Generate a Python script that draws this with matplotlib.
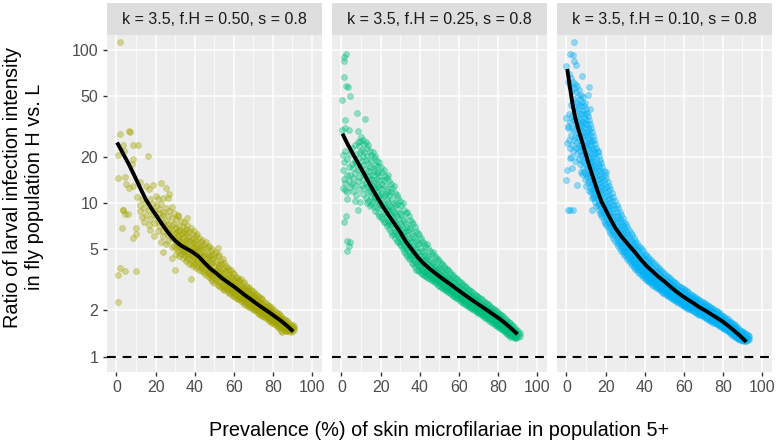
import matplotlib

matplotlib.use('Agg')
from matplotlib import pyplot as plt
from matplotlib.ticker import NullLocator

plt.rcParams['font.family'] = ['Liberation Sans', 'DejaVu Sans']

titles = ['k = 3.5, f.H = 0.50, s = 0.8', 'k = 3.5, f.H = 0.25, s = 0.8', 'k = 3.5, f.H = 0.10, s = 0.8']
colors = ['#A3A500', '#00BF7D', '#00B0F6']
x_ticks = [0, 20, 40, 60, 80, 100]
x_minor = [10, 30, 50, 70, 90]
y_ticks = [1, 2, 5, 10, 20, 50, 100]

# smooth lines
line_a_x = [0.3, 3, 6, 9, 12, 15, 18, 21, 24, 27, 30, 33, 36, 39, 42, 45, 48, 51, 54, 57, 60, 63, 66, 69, 72, 75, 78, 81, 84, 87, 90.4]
line_a_y = [24.9, 21.5, 18.3, 15.3, 12.7, 10.6, 9.2, 8.1, 7.1, 6.3, 5.7, 5.3, 5.05, 4.8, 4.5, 4.1, 3.75, 3.5, 3.25, 3.05, 2.87, 2.68, 2.5, 2.35, 2.2, 2.07, 1.95, 1.83, 1.72, 1.6, 1.46]
line_b_x = [0.5, 3, 6, 9, 12, 15, 18, 21, 24, 27, 30, 33, 36, 39, 42, 45, 48, 51, 54, 57, 60, 63, 66, 69, 72, 75, 78, 81, 84, 87, 90]
line_b_y = [28.4, 24.5, 20.8, 17.8, 15.2, 12.9, 11.1, 9.6, 8.4, 7.4, 6.5, 5.6, 5.0, 4.45, 4.05, 3.75, 3.5, 3.27, 3.07, 2.88, 2.7, 2.53, 2.38, 2.24, 2.11, 1.99, 1.87, 1.76, 1.64, 1.52, 1.4]
line_c_x = [0.4, 1.5, 3, 4.5, 6, 7.5, 9, 10.5, 12, 14, 16, 18, 20, 22, 25, 28, 32, 35, 38, 41, 44, 47, 50, 53, 56, 59, 62, 65, 68, 71, 74, 77, 80, 83, 86, 89, 92]
line_c_y = [75, 60, 45, 36, 30.5, 26.5, 22.8, 19.6, 17, 14.2, 11.9, 10.2, 9.1, 8.1, 6.9, 6.1, 5.3, 4.8, 4.3, 3.9, 3.6, 3.32, 3.1, 2.87, 2.67, 2.5, 2.36, 2.23, 2.1, 2.0, 1.89, 1.79, 1.69, 1.58, 1.47, 1.36, 1.25]

# scatter: each row is x followed by the y values read at that x
points_a = [
    [2, 112], [6.3, 29.6], [1.7, 28.3], [7, 29], [8.5, 24], [10.8, 24], [3.4, 24], [1, 20.5], [3.8, 22],
    [15.9, 20.3], [8.3, 19.5], [8, 18], [1, 14.6], [4.5, 14.9], [5, 13.4], [6.2, 12.5], [8.7, 12.9], [10.5, 11],
    [3.3, 9], [4.4, 8.5], [6, 8.5], [3.4, 9.05], [2.6, 6.9], [10, 6.9], [9.8, 6.3], [8.5, 5.9], [1.7, 3.8], [0.6, 3.4],
    [4.2, 3.6], [10, 3.6], [1, 2.27], [30, 3.7], [38, 3.2], [52, 5.1], [31.5, 8.4], [36, 8], [28.5, 4.4],
    [12.2, 13.8, 9.8, 8.9], [13.1, 10.7, 8.1], [14.3, 9.3, 7.6], [14.9, 13, 10.2, 8.4], [16.7, 12.4, 9.1, 7.2], [17.4, 10.6, 7.9, 6.7],
    [18.5, 13.2, 9.9, 8.5], [19.2, 8.9, 7.4, 6.1], [20.3, 11.2, 9.6, 8.3], [21, 10.7, 7.7, 6.6], [21.8, 9.2, 8.6, 7.1], [23, 13.5, 9.9, 8.0, 5.6],
    [23.7, 8.8, 7.4, 6.6], [24, 10.8, 8.4, 6.1, 4.8], [25.3, 12.6, 9.3, 7.7, 7.0, 5.4], [26.5, 10.8, 8.3, 7.3, 6.2, 5.7], [27, 11.5, 8.9, 6.8, 6.5],
    [28.5, 9.5, 8.0, 7.2, 6.7, 5.9, 5.2], [29.2, 8.7, 7.3, 6.3, 6.0, 5.3], [30.4, 7.9, 6.9, 6.5, 5.6, 5.1, 4.7], [31.3, 8.2, 6.6, 6.1, 5.8, 5.4, 4.9],
    [32.1, 7.1, 6.7, 5.9, 5.5, 5.2, 4.5], [32.9, 7.7, 6.3, 5.7, 5.4, 5.0, 4.7], [33.8, 7.0, 6.4, 6.0, 5.2, 4.9, 4.4], [34.6, 7.5, 6.6, 5.6, 5.3, 4.8, 4.6],
    [35.4, 6.8, 6.1, 5.8, 5.1, 4.9, 4.2], [36.3, 7.2, 6.4, 5.5, 5.2, 4.7, 4.3], [37.2, 6.6, 6.0, 5.7, 5.0, 4.6, 4.4, 4.0], [38.1, 6.9, 5.8, 5.3, 4.9, 4.7, 4.1],
    [38.9, 6.3, 5.9, 5.5, 5.1, 4.5, 4.2, 3.9], [39.7, 6.6, 5.6, 5.2, 4.8, 4.4, 4.0], [40.5, 6.1, 5.7, 5.0, 4.7, 4.3, 3.8], [41.4, 6.3, 5.4, 4.9, 4.5, 4.2, 3.9],
    [42.2, 5.9, 5.2, 5.0, 4.6, 4.1, 3.7], [43.1, 5.6, 5.3, 4.7, 4.3, 4.0, 3.8], [44, 5.8, 5.0, 4.5, 4.2, 3.9, 3.6], [44.8, 5.4, 4.8, 4.6, 4.0, 3.7, 3.5],
    [45.7, 5.6, 5.1, 4.3, 4.1, 3.8, 3.4], [46.6, 5.2, 4.7, 4.4, 3.9, 3.6, 3.5], [47.4, 5.3, 4.5, 4.2, 3.8, 3.5, 3.3], [48.3, 4.9, 4.6, 4.0, 3.7, 3.4, 3.2],
    [49.1, 5.0, 4.3, 4.1, 3.6, 3.3, 3.1], [50, 4.7, 4.4, 3.9, 3.5, 3.4, 3.0], [50.8, 4.8, 4.2, 3.7, 3.6, 3.2, 3.1], [51.7, 4.5, 4.0, 3.8, 3.4, 3.3, 2.95],
    [52.5, 4.6, 3.9, 3.6, 3.5, 3.1, 2.9], [53.4, 4.2, 4.0, 3.4, 3.3, 3.0, 2.85], [54.3, 4.3, 3.7, 3.5, 3.2, 2.95, 2.75], [55.1, 4.1, 3.8, 3.3, 3.1, 2.85, 2.7],
    [56, 3.9, 3.6, 3.2, 3.05, 2.9, 2.75], [56.9, 3.8, 3.4, 3.25, 3.0, 2.8, 2.65], [57.7, 3.65, 3.45, 3.1, 2.95, 2.7, 2.6], [58.5, 3.7, 3.3, 3.05, 2.85, 2.75, 2.55],
    [59.4, 3.5, 3.2, 2.95, 2.8, 2.65, 2.5], [60.2, 3.45, 3.15, 2.9, 2.7, 2.6, 2.48], [61.1, 3.3, 3.05, 2.92, 2.75, 2.55, 2.42], [62, 3.25, 3.1, 2.8, 2.62, 2.5, 2.38],
    [62.8, 3.15, 2.95, 2.78, 2.66, 2.45, 2.36], [63.6, 3.2, 2.88, 2.7, 2.55, 2.42, 2.3], [64.5, 3.0, 2.8, 2.63, 2.48, 2.38, 2.26], [65.3, 3.05, 2.76, 2.55, 2.44, 2.32, 2.22],
    [66.2, 2.9, 2.72, 2.6, 2.4, 2.28, 2.18], [67.1, 2.84, 2.66, 2.5, 2.36, 2.25, 2.14], [67.9, 2.8, 2.58, 2.44, 2.33, 2.2, 2.12], [68.7, 2.72, 2.56, 2.42, 2.27, 2.17, 2.08],
    [69.6, 2.68, 2.48, 2.36, 2.24, 2.14, 2.05], [70.4, 2.6, 2.45, 2.3, 2.2, 2.1, 2.02], [71.3, 2.55, 2.38, 2.28, 2.15, 2.06, 1.98], [72.2, 2.5, 2.35, 2.2, 2.12, 2.02, 1.94],
    [73, 2.44, 2.28, 2.18, 2.07, 1.99, 1.9], [73.9, 2.4, 2.24, 2.12, 2.04, 1.95, 1.87], [74.7, 2.36, 2.2, 2.08, 2.0, 1.92, 1.84], [75.6, 2.28, 2.14, 2.05, 1.96, 1.88, 1.82],
    [76.4, 2.25, 2.1, 2.0, 1.93, 1.85, 1.78], [77.3, 2.18, 2.06, 1.97, 1.88, 1.82, 1.75], [78.1, 2.14, 2.02, 1.93, 1.86, 1.78, 1.72], [79, 2.1, 1.98, 1.89, 1.81, 1.75, 1.7],
    [79.8, 2.06, 1.94, 1.86, 1.78, 1.72, 1.66], [80.7, 2.02, 1.9, 1.81, 1.75, 1.69, 1.63], [81.6, 1.96, 1.87, 1.78, 1.72, 1.65, 1.6], [82.4, 1.92, 1.82, 1.75, 1.68, 1.62, 1.57],
    [83.2, 1.9, 1.79, 1.71, 1.65, 1.59, 1.54], [84.1, 1.84, 1.75, 1.68, 1.62, 1.56, 1.46], [84.9, 1.8, 1.72, 1.65, 1.58, 1.53, 1.45], [85.8, 1.77, 1.69, 1.62, 1.56, 1.5],
    [86.6, 1.73, 1.65, 1.58, 1.53, 1.48], [87.5, 1.7, 1.62, 1.55, 1.5, 1.46], [88.3, 1.66, 1.59, 1.52, 1.47], [89.2, 1.62, 1.56, 1.5, 1.45], [90.1, 1.6, 1.53, 1.47], [91, 1.57, 1.51],
]
points_b = [
    [2.2, 94], [1.2, 90], [1.4, 84], [1.4, 67], [2.4, 58], [3.4, 57], [4.6, 50], [0.2, 47], [7.9, 39], [11.8, 35.5],
    [1.7, 35], [0.5, 30], [1.7, 30.8], [4, 30], [8.2, 29.4], [10, 27], [2.6, 10.7], [6.8, 10.4], [8.5, 9], [2.2, 8.3],
    [1.5, 7.5], [2.8, 5.7], [3.6, 5.3], [4.6, 5.6], [2.9, 4.9],
    [0.6, 20.5, 16.5, 12.6], [1.4, 18.6, 14.4], [2, 22, 13.6, 12.2], [2.9, 19.5, 15.4, 11.9], [3.6, 17.2, 13.9], [4.4, 20.8, 15.2, 12.8], [5.2, 23, 18, 13.3],
    [6, 17, 14.6, 12], [6.9, 23.8, 19, 15.8, 13.2], [7.6, 21, 18.2, 11.3], [8.3, 25, 16.4, 13.9], [9, 23.5, 19.8, 14.8, 12.4], [9.7, 25.6, 21.5, 17.2, 10.2],
    [10.4, 22.4, 19, 16, 13.2], [11, 26, 20.3, 17.8, 14.4, 11.5], [11.7, 24.4, 21.6, 15.4, 12.5], [12.4, 25, 19.2, 16.8, 13.6, 10.9], [13.1, 22.8, 20.4, 15, 12.9, 10],
    [13.8, 24, 18.4, 16.2, 14.2, 11.8, 10.4], [14.5, 21.8, 17.2, 15.4, 13.3, 12, 9.6], [15.2, 20.6, 18.9, 14.5, 12.6, 11, 9.9], [15.9, 21.5, 17, 15.3, 13, 11.6, 10.3], [16.6, 19.6, 16.2, 14.1, 12.2, 10.8, 9.4],
    [17.3, 20.4, 17.8, 13.6, 12.5, 11.2, 8.9], [18, 19, 15.7, 14.3, 11.8, 10.4, 9.5], [18.7, 17.6, 16, 13.1, 11.3, 10.6, 8.7], [19.4, 18.7, 15.1, 12.7, 11.1, 9.9, 8.3],
    [20.1, 17.2, 14.2, 12.4, 10.7, 9.3, 8.1], [20.9, 15.9, 13.4, 11.7, 10.1, 9.6, 7.9], [21.6, 16.6, 14.1, 11.2, 9.9, 8.8, 7.5], [22.4, 15, 12.9, 11.5, 9.5, 8.5, 7.6],
    [23.1, 14.6, 12.3, 10.6, 9.2, 8.2, 7.1], [23.8, 15.2, 11.9, 10.2, 8.9, 7.8, 7.3], [24.5, 13.9, 11.4, 9.8, 9, 7.6, 6.8], [25.3, 13.3, 11.8, 9.4, 8.4, 7.2, 6.5],
    [26, 12.5, 10.7, 9.1, 8.1, 7.4, 6.2], [26.8, 12.9, 10.1, 8.8, 7.7, 6.9, 6.3], [27.5, 11.7, 9.7, 8.5, 7.5, 6.6, 5.9], [28.3, 11.3, 9.9, 8.2, 7.1, 6.3, 5.7],
    [29, 10.9, 9.2, 7.9, 6.9, 6.1, 5.6], [29.8, 10.4, 8.7, 7.4, 6.7, 5.9, 5.4], [30.6, 9.8, 8.4, 7.2, 6.3, 5.7, 5.3], [31.3, 10.1, 7.9, 6.8, 6.0, 5.5, 5.0],
    [32.1, 9.1, 7.7, 6.5, 6.1, 5.3, 4.8], [32.9, 8.6, 7.3, 6.6, 5.7, 5.1, 4.7], [33.7, 8.8, 7.0, 6.2, 5.6, 5.0, 4.5], [34.4, 8.2, 6.7, 5.9, 5.3, 4.8, 4.3],
    [35.2, 7.8, 6.9, 5.7, 5.2, 4.6, 4.4], [36, 7.5, 6.4, 5.6, 4.9, 4.5, 4.1], [36.8, 7.3, 6.1, 5.3, 4.8, 4.3, 4.0], [37.5, 7.0, 5.9, 5.1, 4.6, 4.2, 3.85],
    [38.3, 6.6, 5.7, 5.0, 4.5, 4.1, 3.7], [39.1, 6.4, 5.4, 4.8, 4.3, 3.95, 3.65], [39.8, 6.2, 5.5, 4.6, 4.2, 3.9, 3.6], [40.6, 5.9, 5.1, 4.5, 4.0, 3.8, 3.5],
    [41.4, 5.7, 4.9, 4.35, 4.1, 3.7, 3.45], [42.2, 5.5, 4.8, 4.2, 3.9, 3.6, 3.4], [42.9, 5.3, 4.6, 4.25, 3.8, 3.55, 3.35], [43.7, 5.4, 4.4, 4.05, 3.7, 3.5, 3.3],
    [44.5, 5.1, 4.5, 3.95, 3.65, 3.45, 3.25], [45.3, 4.9, 4.25, 3.9, 3.6, 3.4, 3.2], [46.1, 4.7, 4.15, 3.8, 3.55, 3.3, 3.15], [46.8, 4.8, 4.05, 3.7, 3.45, 3.28, 3.1],
    [47.6, 4.5, 3.95, 3.65, 3.4, 3.2, 3.05], [48.4, 4.4, 3.85, 3.55, 3.35, 3.15, 3.0], [49.2, 4.3, 3.75, 3.5, 3.25, 3.1, 2.95], [49.9, 4.2, 3.8, 3.4, 3.2, 3.05, 2.9],
    [50.7, 4.1, 3.65, 3.35, 3.15, 3.0, 2.85], [51.5, 4.0, 3.55, 3.3, 3.1, 2.95, 2.8], [52.3, 3.9, 3.45, 3.2, 3.02, 2.9, 2.75], [53, 3.8, 3.4, 3.15, 3.0, 2.85, 2.72],
    [53.8, 3.72, 3.3, 3.1, 2.95, 2.78, 2.68], [54.6, 3.65, 3.25, 3.05, 2.88, 2.75, 2.64], [55.4, 3.55, 3.2, 2.98, 2.84, 2.7, 2.6], [56.1, 3.48, 3.12, 2.95, 2.78, 2.66, 2.55],
    [56.9, 3.4, 3.06, 2.88, 2.74, 2.62, 2.5], [57.7, 3.33, 3.02, 2.82, 2.7, 2.56, 2.47], [58.5, 3.27, 2.95, 2.78, 2.64, 2.52, 2.43], [59.2, 3.2, 2.9, 2.73, 2.6, 2.48, 2.4],
    [60, 3.12, 2.86, 2.68, 2.55, 2.45, 2.36], [60.8, 3.06, 2.82, 2.63, 2.5, 2.4, 2.32], [61.6, 3.0, 2.75, 2.58, 2.46, 2.36, 2.28], [62.4, 2.95, 2.7, 2.54, 2.42, 2.33, 2.25],
    [63.1, 2.88, 2.65, 2.5, 2.38, 2.29, 2.2], [63.9, 2.84, 2.6, 2.45, 2.34, 2.26, 2.17], [64.7, 2.78, 2.56, 2.42, 2.3, 2.22, 2.14], [65.5, 2.72, 2.5, 2.38, 2.27, 2.18, 2.11],
    [66.2, 2.68, 2.47, 2.34, 2.23, 2.15, 2.08], [67, 2.62, 2.42, 2.3, 2.19, 2.12, 2.05], [67.8, 2.58, 2.38, 2.26, 2.16, 2.08, 2.02], [68.6, 2.52, 2.34, 2.22, 2.13, 2.05, 1.98],
    [69.3, 2.48, 2.3, 2.19, 2.09, 2.02, 1.95], [70.1, 2.44, 2.26, 2.15, 2.06, 1.99, 1.92], [70.9, 2.4, 2.22, 2.12, 2.03, 1.96, 1.89], [71.7, 2.36, 2.18, 2.08, 2.0, 1.93, 1.86],
    [72.4, 2.31, 2.15, 2.05, 1.97, 1.9, 1.83], [73.2, 2.27, 2.12, 2.02, 1.94, 1.87, 1.8], [74, 2.23, 2.08, 1.99, 1.91, 1.84, 1.78], [74.8, 2.2, 2.05, 1.96, 1.88, 1.81, 1.75],
    [75.5, 2.16, 2.02, 1.93, 1.85, 1.78, 1.72], [76.3, 2.12, 1.99, 1.9, 1.82, 1.76, 1.7], [77.1, 2.08, 1.95, 1.86, 1.79, 1.73, 1.67], [77.9, 2.05, 1.92, 1.83, 1.76, 1.7, 1.65],
    [78.6, 2.01, 1.89, 1.8, 1.73, 1.67, 1.62], [79.4, 1.98, 1.86, 1.77, 1.7, 1.64, 1.59], [80.2, 1.94, 1.82, 1.74, 1.67, 1.61, 1.56], [81, 1.9, 1.79, 1.71, 1.64, 1.58, 1.54],
    [81.7, 1.87, 1.76, 1.68, 1.61, 1.56, 1.51], [82.5, 1.83, 1.72, 1.65, 1.58, 1.53, 1.49], [83.3, 1.8, 1.69, 1.62, 1.55, 1.5, 1.46], [84.1, 1.76, 1.66, 1.58, 1.52, 1.47, 1.43],
    [84.8, 1.72, 1.63, 1.55, 1.49, 1.44, 1.4], [85.6, 1.68, 1.59, 1.52, 1.46, 1.42, 1.38], [86.4, 1.65, 1.56, 1.49, 1.43, 1.39, 1.35], [87.2, 1.61, 1.52, 1.46, 1.41, 1.36],
    [87.9, 1.58, 1.5, 1.43, 1.38, 1.34], [88.7, 1.54, 1.46, 1.4, 1.35, 1.32], [89.5, 1.5, 1.43, 1.37, 1.33], [90.3, 1.47, 1.4, 1.34], [91.1, 1.43, 1.37],
]
points_c = [
    [3.9, 113], [1.7, 94], [3.4, 92], [3.8, 85], [4.8, 80], [0, 78], [7.7, 68], [11.6, 57], [11, 51], [12, 41], [0, 36], [0.9, 32],
    [0.3, 24.7], [1.7, 19.7], [0.3, 16.5], [0, 14.2], [0.9, 9], [2, 9], [3.1, 9], [5.6, 13.2], [20, 15.9], [16.2, 22], [13, 9],
    [0.6, 62, 31], [1.1, 70, 38, 26], [1.7, 58, 34, 23], [2.2, 66, 44, 28, 20], [2.7, 54, 37, 31, 24, 17], [3.2, 62, 48, 35, 22], [3.7, 56, 42, 30, 26],
    [4.2, 60, 46, 36, 27, 19], [4.7, 53, 40, 33, 23], [5.2, 58, 45, 37, 29, 25, 21], [5.8, 50, 41, 34, 27, 23], [6.3, 55, 44, 36, 31, 24, 19.5],
    [6.8, 48, 39, 33, 28, 22, 18], [7.3, 51, 43, 35, 30, 25, 20.5, 16], [7.9, 46, 38, 32, 27, 23, 19, 15.5], [8.4, 49, 40, 34, 29, 24, 21, 17],
    [8.9, 43, 36, 31, 26, 22, 18.5, 16], [9.4, 45, 38, 33, 28, 23.5, 20, 14.5], [9.9, 41, 35, 29, 25, 21, 18, 15.5, 13], [10.4, 39, 33, 28, 24, 20.5, 17, 14.8],
    [10.9, 37, 31, 26.5, 22.5, 19.5, 16.5, 13.6], [11.5, 35, 30, 25, 21.5, 18.5, 15.6, 14, 12], [12, 33, 28, 24, 20, 17.5, 15, 12.8], [12.6, 31, 26, 22.5, 19, 16.8, 14.2, 11.8],
    [13.1, 29, 25, 21, 18.2, 15.8, 13.6, 12.2, 10.8], [13.7, 27.5, 23, 20, 17.2, 15, 12.9, 11.2], [14.2, 26, 22, 18.8, 16.4, 14.2, 12.4, 10.9], [14.8, 24.5, 21, 17.8, 15.6, 13.4, 11.6, 10.2],
    [15.3, 23, 19.6, 17, 14.8, 12.8, 11.2, 9.6], [15.9, 21.5, 18.4, 16.2, 14.1, 12.2, 10.6, 9.8], [16.5, 20.4, 17.6, 15.2, 13.3, 11.7, 10.1, 9.1], [17.1, 19.2, 16.6, 14.5, 12.7, 11, 9.7, 8.7],
    [17.7, 18.2, 15.7, 13.8, 12, 10.5, 9.3, 8.4], [18.4, 17.2, 14.9, 13, 11.5, 10.1, 8.9, 8.1], [19, 16.3, 14.2, 12.4, 10.9, 9.6, 8.6, 7.7], [19.7, 15.4, 13.4, 11.8, 10.4, 9.2, 8.3, 7.4],
    [20.4, 14.6, 12.7, 11.1, 9.9, 8.8, 7.9, 7.2], [21.1, 13.8, 12, 10.6, 9.4, 8.4, 7.6, 7], [21.8, 13, 11.4, 10.1, 9, 8.1, 7.3, 6.7], [22.5, 12.3, 10.9, 9.6, 8.6, 7.7, 7, 6.4],
    [23.2, 11.6, 10.3, 9.2, 8.2, 7.4, 6.7, 6.2], [24, 11, 9.8, 8.7, 7.8, 7.1, 6.5, 5.9], [24.8, 10.4, 9.3, 8.3, 7.5, 6.8, 6.2, 5.7], [25.6, 9.8, 8.8, 7.9, 7.1, 6.5, 6, 5.5],
    [26.4, 9.3, 8.3, 7.5, 6.8, 6.2, 5.7, 5.3], [27.2, 8.8, 7.9, 7.1, 6.5, 6, 5.5, 5.1], [28, 8.4, 7.5, 6.8, 6.2, 5.7, 5.3, 4.9], [28.8, 8, 7.2, 6.5, 6, 5.5, 5.1, 4.8],
    [29.6, 7.6, 6.9, 6.3, 5.7, 5.3, 4.9, 4.6], [30.4, 7.3, 6.6, 6, 5.5, 5.1, 4.8, 4.5], [31.2, 7, 6.3, 5.8, 5.3, 4.9, 4.6, 4.3], [32, 6.7, 6, 5.5, 5.1, 4.8, 4.4, 4.2],
    [32.8, 6.4, 5.8, 5.3, 5, 4.6, 4.3, 4.1], [33.6, 6.2, 5.6, 5.1, 4.8, 4.5, 4.2, 3.95], [34.4, 5.9, 5.4, 5, 4.6, 4.3, 4.05, 3.85], [35.2, 5.7, 5.2, 4.8, 4.5, 4.2, 3.95, 3.75],
    [36, 5.5, 5, 4.65, 4.35, 4.05, 3.85, 3.65], [36.8, 5.3, 4.85, 4.5, 4.2, 3.95, 3.75, 3.55], [37.6, 5.15, 4.7, 4.35, 4.1, 3.85, 3.65, 3.48], [38.4, 5, 4.55, 4.25, 3.95, 3.75, 3.55, 3.4],
    [39.2, 4.85, 4.45, 4.1, 3.85, 3.65, 3.48, 3.32], [40, 4.7, 4.3, 4, 3.75, 3.55, 3.4, 3.25], [40.8, 4.6, 4.2, 3.9, 3.65, 3.48, 3.32, 3.18], [41.6, 4.45, 4.05, 3.8, 3.58, 3.4, 3.25, 3.12],
    [42.4, 4.35, 3.95, 3.7, 3.5, 3.33, 3.18, 3.06], [43.2, 4.25, 3.88, 3.62, 3.42, 3.26, 3.12, 3], [44, 4.15, 3.78, 3.54, 3.34, 3.18, 3.06, 2.95], [44.8, 4.05, 3.7, 3.46, 3.27, 3.12, 3, 2.9],
    [45.6, 3.95, 3.62, 3.38, 3.2, 3.06, 2.95, 2.85], [46.4, 3.85, 3.54, 3.32, 3.14, 3, 2.9, 2.8], [47.2, 3.76, 3.46, 3.25, 3.08, 2.95, 2.85, 2.75], [48, 3.68, 3.38, 3.18, 3.02, 2.9, 2.8, 2.7],
    [48.8, 3.6, 3.32, 3.12, 2.97, 2.85, 2.75, 2.65], [49.6, 3.52, 3.25, 3.06, 2.92, 2.8, 2.7, 2.6], [50.4, 3.45, 3.18, 3, 2.86, 2.75, 2.65, 2.56], [51.2, 3.38, 3.12, 2.95, 2.82, 2.7, 2.6, 2.52],
    [52, 3.3, 3.06, 2.9, 2.76, 2.66, 2.56, 2.48], [52.8, 3.24, 3, 2.84, 2.72, 2.62, 2.52, 2.44], [53.6, 3.18, 2.95, 2.8, 2.67, 2.57, 2.48, 2.4], [54.4, 3.12, 2.9, 2.75, 2.62, 2.53, 2.44, 2.36],
    [55.2, 3.06, 2.85, 2.7, 2.58, 2.49, 2.4, 2.33], [56, 3, 2.8, 2.65, 2.54, 2.45, 2.37, 2.3], [56.8, 2.95, 2.76, 2.62, 2.5, 2.41, 2.34, 2.27], [57.6, 2.9, 2.71, 2.58, 2.47, 2.38, 2.31, 2.24],
    [58.4, 2.85, 2.67, 2.54, 2.43, 2.35, 2.28, 2.21], [59.2, 2.8, 2.63, 2.5, 2.4, 2.32, 2.25, 2.18], [60, 2.76, 2.59, 2.46, 2.36, 2.28, 2.21, 2.15], [60.8, 2.71, 2.55, 2.43, 2.33, 2.25, 2.18, 2.12],
    [61.6, 2.67, 2.51, 2.39, 2.3, 2.22, 2.15, 2.09], [62.4, 2.62, 2.47, 2.35, 2.26, 2.19, 2.12, 2.06], [63.2, 2.58, 2.43, 2.32, 2.23, 2.16, 2.09, 2.03], [64, 2.54, 2.4, 2.29, 2.2, 2.13, 2.06, 2.01],
    [64.8, 2.5, 2.36, 2.25, 2.17, 2.1, 2.03, 1.98], [65.6, 2.46, 2.33, 2.22, 2.14, 2.07, 2.01, 1.96], [66.4, 2.42, 2.29, 2.19, 2.11, 2.04, 1.98, 1.93], [67.2, 2.38, 2.25, 2.16, 2.08, 2.01, 1.96, 1.91],
    [68, 2.35, 2.22, 2.13, 2.05, 1.99, 1.93, 1.88], [68.8, 2.31, 2.19, 2.1, 2.02, 1.96, 1.91, 1.86], [69.6, 2.28, 2.16, 2.07, 2, 1.94, 1.88, 1.83], [70.4, 2.24, 2.13, 2.04, 1.97, 1.91, 1.86, 1.81],
    [71.2, 2.2, 2.1, 2.01, 1.94, 1.88, 1.83, 1.79], [72, 2.17, 2.07, 1.98, 1.92, 1.86, 1.81, 1.76], [72.8, 2.14, 2.04, 1.96, 1.89, 1.84, 1.79, 1.74], [73.6, 2.11, 2.01, 1.93, 1.87, 1.81, 1.76, 1.72],
    [74.4, 2.07, 1.98, 1.9, 1.84, 1.79, 1.74, 1.7], [75.2, 2.04, 1.95, 1.88, 1.81, 1.76, 1.72, 1.67], [76, 2.01, 1.92, 1.85, 1.79, 1.74, 1.69, 1.65], [76.8, 1.98, 1.89, 1.82, 1.76, 1.71, 1.67, 1.63],
    [77.6, 1.95, 1.86, 1.79, 1.74, 1.69, 1.65, 1.6], [78.4, 1.92, 1.83, 1.76, 1.71, 1.66, 1.62, 1.58], [79.2, 1.88, 1.8, 1.74, 1.68, 1.64, 1.6, 1.56], [80, 1.85, 1.77, 1.71, 1.66, 1.61, 1.57, 1.54],
    [80.8, 1.82, 1.74, 1.68, 1.63, 1.59, 1.55, 1.51], [81.6, 1.79, 1.71, 1.65, 1.6, 1.56, 1.52, 1.49], [82.4, 1.76, 1.68, 1.62, 1.57, 1.53, 1.5, 1.46], [83.2, 1.72, 1.65, 1.59, 1.55, 1.51, 1.47, 1.44],
    [84, 1.69, 1.62, 1.56, 1.52, 1.48, 1.45, 1.41], [84.8, 1.66, 1.59, 1.54, 1.49, 1.45, 1.42, 1.39], [85.6, 1.63, 1.56, 1.51, 1.47, 1.43, 1.4, 1.37], [86.4, 1.6, 1.53, 1.48, 1.44, 1.4, 1.37, 1.34],
    [87.2, 1.56, 1.5, 1.45, 1.41, 1.38, 1.35, 1.32], [88, 1.53, 1.47, 1.42, 1.39, 1.35, 1.32, 1.3], [88.8, 1.5, 1.44, 1.4, 1.36, 1.33, 1.3, 1.28], [89.6, 1.47, 1.42, 1.37, 1.34, 1.31, 1.28],
    [90.4, 1.45, 1.39, 1.35, 1.31, 1.28, 1.26], [91.2, 1.42, 1.37, 1.33, 1.29, 1.26], [92, 1.4, 1.35, 1.3, 1.27], [92.8, 1.38, 1.33, 1.29], [93.6, 1.36, 1.31],
]

W, H = 777, 446
panel_left = [106.7, 331.7, 556.7]
panel_w = 215
panel_top = 35
panel_bottom = 371.7
strip_top = 3

fig = plt.figure(figsize=(W / 100, H / 100), dpi=100)


def flatten(rows):
    xs, ys = [], []
    for row in rows:
        for y in row[1:]:
            xs.append(row[0])
            ys.append(y)
    return xs, ys


lines = [(line_a_x, line_a_y), (line_b_x, line_b_y), (line_c_x, line_c_y)]
points = [points_a, points_b, points_c]

for i in range(3):
    ax = fig.add_axes([panel_left[i] / W, 1 - panel_bottom / H, panel_w / W, (panel_bottom - panel_top) / H])
    ax.set_facecolor('#EDEDED')
    for s in ax.spines.values():
        s.set_visible(False)
    ax.set_yscale('log')
    ax.set_xlim(-5, 105)
    ax.set_ylim(0.798, 125)
    ax.set_axisbelow(True)

    ax.set_xticks(x_ticks)
    ax.set_xticks(x_minor, minor=True)
    ax.yaxis.set_minor_locator(NullLocator())
    ax.set_yticks(y_ticks)
    ax.grid(which='major', color='white', lw=1.1)
    ax.grid(which='minor', axis='x', color='white', lw=0.55)
    ax.tick_params(which='minor', length=0)
    ax.tick_params(axis='x', which='major', length=3.0, width=1.0, color='#333333',
                   labelcolor='#4D4D4D', labelsize=11.5, pad=3)
    if i == 0:
        ax.set_yticklabels([str(v) for v in y_ticks])
        ax.tick_params(axis='y', which='major', length=3.0, width=1.0, color='#333333',
                       labelcolor='#4D4D4D', labelsize=11.5, pad=3)
    else:
        ax.tick_params(axis='y', which='major', length=0, labelleft=False)

    xs, ys = flatten(points[i])
    ax.scatter(xs, ys, s=18, color=colors[i], alpha=0.38, linewidths=0.6, clip_on=False, zorder=2)
    ax.plot(lines[i][0], lines[i][1], color='black', lw=2.8, zorder=3, solid_capstyle='butt', solid_joinstyle='round')
    ax.axhline(1, color='black', lw=1.5, ls=(0, (4.2, 3.3)), zorder=4)

    # strip
    strip = fig.add_axes([panel_left[i] / W, 1 - panel_top / H, panel_w / W, (panel_top - strip_top) / H])
    strip.set_facecolor('#DEDEDE')
    strip.set_xticks([])
    strip.set_yticks([])
    for s in strip.spines.values():
        s.set_visible(False)
    strip.text(0.5, 0.5, titles[i], ha='center', va='center', fontsize=11.5, color='#1A1A1A', transform=strip.transAxes)

fig.text(439 / W, 1 - 430 / H, 'Prevalence (%) of skin microfilariae in population 5+', ha='center', va='center',
         fontsize=14.3, color='black')
fig.text(23.5 / W, 1 - 187 / H, 'Ratio of larval infection intensity\nin fly population H vs. L', ha='center', va='center',
         rotation=90, fontsize=14.3, color='black', linespacing=1.19)

fig.savefig('out.png', dpi=100)
